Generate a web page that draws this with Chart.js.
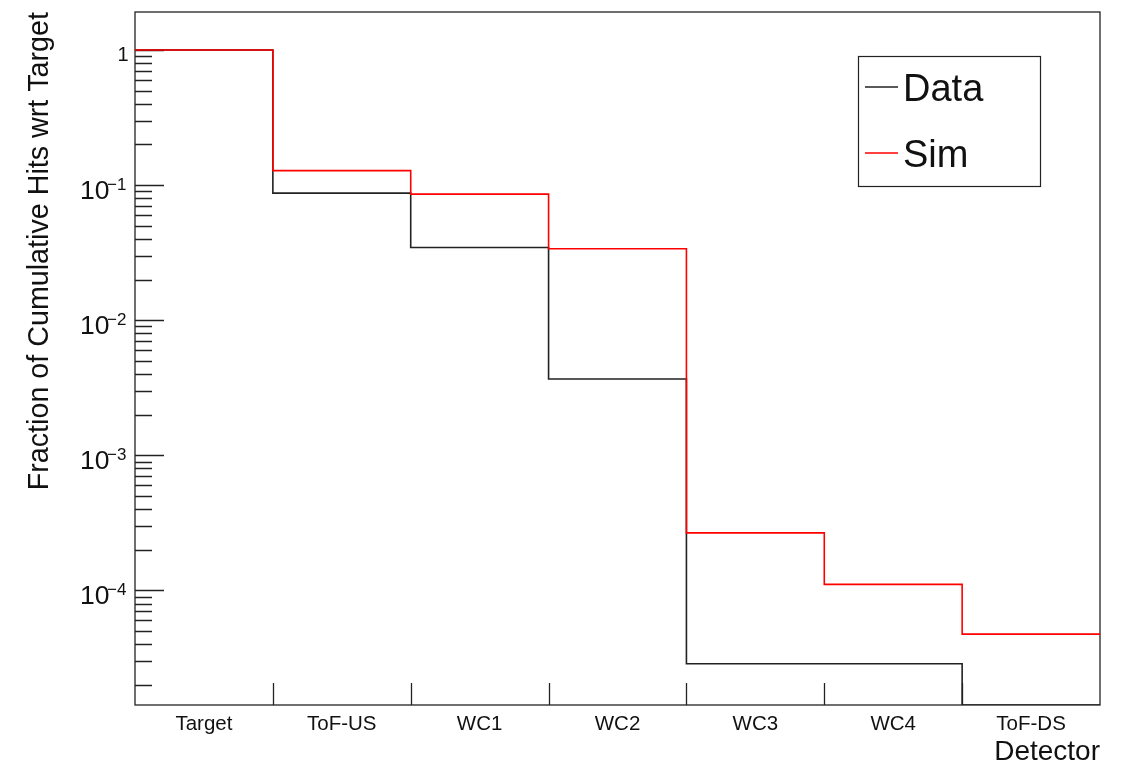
<!DOCTYPE html>
<html>
<head>
<meta charset="utf-8">
<script src="https://cdn.jsdelivr.net/npm/chart.js@4.4.1/dist/chart.umd.min.js"></script>
<style>
  html, body { margin: 0; padding: 0; background: #fff; }
</style>
</head>
<body>
<canvas id="hits" width="1127" height="764"></canvas>
<script>
const detectors = ["Target", "ToF-US", "WC1", "WC2", "WC3", "WC4", "ToF-DS"];
// fraction of cumulative hits per detector (0 = empty bin)
const dataFraction = [1, 0.0872, 0.0345, 0.00367, 2.87e-5, 2.87e-5, 0];
const simFraction = [1, 0.128, 0.0857, 0.0338, 2.67e-4, 1.11e-4, 4.75e-5];
// y axis
const yExponents = [0, -1, -2, -3, -4];
const yMin = 1.42e-5;
const yMax = 1.91;

const fontFamily = "'Liberation Sans', Arial, Helvetica, sans-serif";

// histogram outline: one point per lower bin edge, plus the last edge.
// empty bins sit on the axis floor, like ROOT does on a log axis
const histPoints = (values) => {
  let pts = values.map((v, i) => ({ x: i, y: v > 0 ? v : yMin }));
  pts.push({ x: values.length, y: pts[pts.length - 1].y });
  return pts;
};

// minor tick positions for the log axis (1..9 per decade)
let yTickValues = [];
for (let e = -5; e <= 0; e++) {
  for (let m = 1; m <= 9; m++) {
    let v = m * Math.pow(10, e);
    if (v >= yMin && v <= yMax) yTickValues.push(v);
  }
}

const rootFrame = {
  id: "rootFrame",
  beforeDatasetsDraw(chart) {
    const { ctx, chartArea: a, scales } = chart;
    const xs = scales.x;
    const ys = scales.y;
    ctx.save();

    // frame
    ctx.strokeStyle = "#222";
    ctx.lineWidth = 1.3;
    ctx.strokeRect(a.left, a.top, a.right - a.left, a.bottom - a.top);

    // tick marks, drawn inside the frame
    ctx.beginPath();
    for (let i = 1; i < detectors.length; i++) {
      let px = Math.round(xs.getPixelForValue(i)) + 0.5;
      ctx.moveTo(px, a.bottom);
      ctx.lineTo(px, a.bottom - 22);
    }
    yTickValues.forEach((v) => {
      let py = Math.round(ys.getPixelForValue(v)) + 0.5;
      let isMajor = yExponents.some((e) => Math.abs(Math.log10(v) - e) < 1e-9);
      ctx.moveTo(a.left, py);
      ctx.lineTo(a.left + (isMajor ? 29 : 17), py);
    });
    ctx.stroke();
    ctx.restore();
  },
  afterDraw(chart) {
    const { ctx, chartArea: a, scales } = chart;
    const ys = scales.y;
    ctx.save();

    // y labels: 1, 10^-1 ...
    ctx.fillStyle = "#111";
    ctx.textAlign = "right";
    ctx.textBaseline = "alphabetic";
    yExponents.forEach((e) => {
      let py = ys.getPixelForValue(Math.pow(10, e));
      if (e === 0) {
        ctx.font = "20px " + fontFamily;
        ctx.fillText("1", a.left - 6.5, py + 11.5);
      } else {
        ctx.font = "26.5px " + fontFamily;
        ctx.fillText("10", a.left - 25.5, py + 14);
        ctx.font = "17px " + fontFamily;
        ctx.fillText("\u2212" + -e, a.left - 8.5, py + 5);
      }
    });

    // legend box
    const box = { left: 858, top: 56, right: 1040, bottom: 186 };
    ctx.fillStyle = "#fff";
    ctx.fillRect(box.left, box.top, box.right - box.left, box.bottom - box.top);
    ctx.lineWidth = 1.2;
    ctx.strokeStyle = "#222";
    ctx.strokeRect(box.left + 0.5, box.top + 0.5, box.right - box.left, box.bottom - box.top);
    const entries = [
      { text: "Data", color: "#222", y: 87 },
      { text: "Sim", color: "#ff0000", y: 153 },
    ];
    ctx.font = "38px " + fontFamily;
    ctx.textAlign = "left";
    entries.forEach((en) => {
      ctx.strokeStyle = en.color;
      ctx.lineWidth = 1.5;
      ctx.beginPath();
      ctx.moveTo(865, en.y);
      ctx.lineTo(898, en.y);
      ctx.stroke();
      ctx.fillStyle = "#111";
      ctx.fillText(en.text, 903, en.y + 14);
    });

    ctx.restore();
  },
};

const chartContainer = document.getElementById("hits").getContext("2d");
const hitsChart = new Chart(chartContainer, {
  type: "line",
  data: {
    datasets: [
      {
        label: "Data",
        data: histPoints(dataFraction),
        borderColor: "#222",
        borderWidth: 1.6,
        stepped: "before",
        pointRadius: 0,
        fill: false,
        order: 2,
      },
      {
        label: "Sim",
        data: histPoints(simFraction),
        borderColor: "#ff0000",
        borderWidth: 1.6,
        stepped: "before",
        pointRadius: 0,
        fill: false,
        order: 1,
      },
    ],
  },
  options: {
    responsive: false,
    animation: false,
    layout: { padding: { top: 12, right: 27, left: 0, bottom: 0 } },
    plugins: {
      legend: { display: false },
      tooltip: { enabled: false },
    },
    scales: {
      x: {
        type: "linear",
        min: 0,
        max: detectors.length,
        grid: { display: false, drawTicks: false },
        border: { display: false },
        afterFit: (scale) => {
          scale.height = 59;
        },
        afterBuildTicks: (scale) => {
          scale.ticks = detectors.map((d, i) => ({ value: i + 0.5 }));
        },
        ticks: {
          autoSkip: false,
          maxRotation: 0,
          padding: 7,
          color: "#111",
          font: { family: fontFamily, size: 20.5 },
          callback: (value, index) => detectors[index],
        },
        title: {
          display: true,
          text: "Detector",
          align: "end",
          color: "#111",
          padding: 0,
          font: { family: fontFamily, size: 28, lineHeight: 0.85 },
        },
      },
      y: {
        type: "logarithmic",
        min: yMin,
        max: yMax,
        grid: { display: false, drawTicks: false },
        border: { display: false },
        ticks: { display: false },
        afterFit: (scale) => {
          scale.width = 135;
        },
        title: {
          display: true,
          text: "Fraction of Cumulative Hits wrt Target",
          align: "end",
          color: "#111",
          padding: { top: 23, bottom: 0 },
          font: { family: fontFamily, size: 28.7, lineHeight: 1.2 },
        },
      },
    },
  },
  plugins: [rootFrame],
});
</script>
</body>
</html>
